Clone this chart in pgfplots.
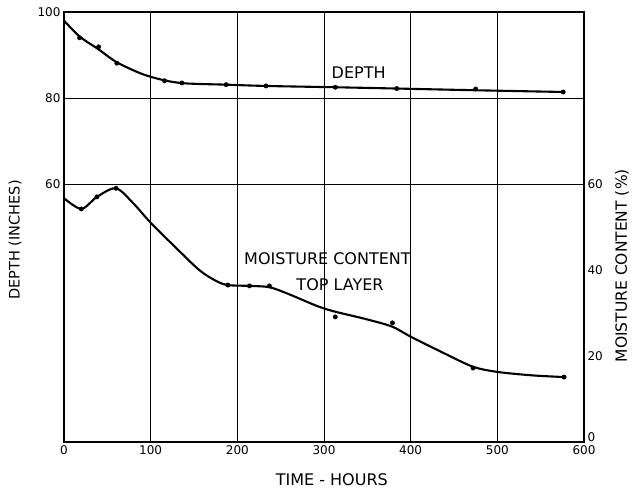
\documentclass[border=0pt]{standalone}
\usepackage{fontspec}
\setmainfont{DejaVu Sans}
\usepackage{pgfplots}
\pgfplotsset{compat=1.18}
\begin{document}
\begin{tikzpicture}
\useasboundingbox (-64pt,-48pt) rectangle (574pt,442pt);
\pgfplotsset{
  common/.style={
    scale only axis, width=520pt, height=430pt,
    xmin=0, xmax=600, ymin=0, ymax=100,
    /pgf/number format/assume math mode=true,
    ticklabel style={font=\fontsize{12}{12}\selectfont},
    major tick length=0pt,
    axis line style={line width=1.5pt},
  }
}
\begin{axis}[common,
  xtick={0,100,...,600}, ytick={60,80,100},
  grid=major, grid style={black, line width=0.7pt},
  xlabel={TIME - HOURS},
  xlabel style={font=\fontsize{16}{16}\selectfont, at={(axis description cs:0.515,-0.088)}, anchor=center},
  ylabel={DEPTH (INCHES)},
  ylabel style={font=\fontsize{14.5}{14.5}\selectfont, at={(axis description cs:-0.094,0.47)}, anchor=center},
]
% depth curve
\addplot[black, line width=2.1pt, smooth, tension=0.5] coordinates {
(0,98) (18,94.3) (40,91.3) (61,88.3) (90,85.6) (116,84.1) (140,83.4) (187,83.1) (233,82.8) (313,82.5) (384,82.2) (475,81.8) (576,81.4)};
\addplot[only marks, mark=*, mark size=2.2pt, black] coordinates {
(18,94) (40,91.9) (61,88.1) (116,84) (136,83.5) (187,83.1) (233,82.8) (313,82.5) (384,82.2) (475,82.1) (576,81.4)};
% moisture curve
\addplot[black, line width=2.1pt, smooth, tension=0.5] coordinates {
(0,56.7) (20,54.2) (38,57) (60,59) (80,55.5) (100,51) (130,45) (156,40) (175,37.5) (189,36.5) (214,36.3) (237,36.0) (258,34.5) (278,32.8) (295,31.4) (313,30.3) (350,28.5) (379,26.8) (400,24.5) (440,20.5) (472,17.5) (500,16.3) (540,15.5) (577,15.1)};
\addplot[only marks, mark=*, mark size=2.2pt, black] coordinates {
(20,54.2) (38,57) (60,59) (189,36.5) (214,36.3) (237,36.3) (313,29.1) (379,27.7) (472,17.2) (577,15.1)};
\node[font=\fontsize{16}{16}\selectfont] at (axis cs:340,85.8) {DEPTH};
\node[font=\fontsize{16}{16}\selectfont] at (axis cs:304,42.6) {MOISTURE CONTENT};
\node[font=\fontsize{16}{16}\selectfont] at (axis cs:318.5,36.7) {TOP LAYER};
\end{axis}
\begin{axis}[common,
  axis x line=none, axis y line*=right,
  ytick={20,40,60},
  extra y ticks={0},
  extra y tick style={yticklabel style={yshift=5pt}},
  ylabel={MOISTURE CONTENT (\%)},
  ylabel style={font=\fontsize{15.5}{15.5}\selectfont, at={(axis description cs:1.073,0.41)}, anchor=center},
]
\end{axis}
\end{tikzpicture}
\end{document}
